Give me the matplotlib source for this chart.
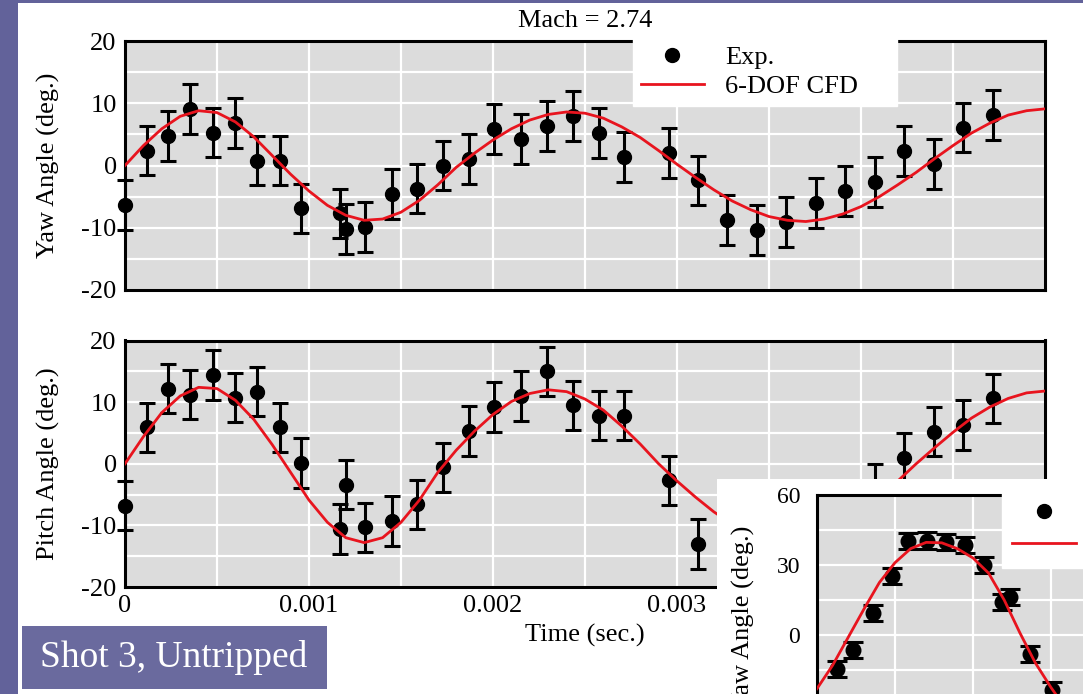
import numpy as np
import matplotlib.pyplot as plt
from matplotlib.lines import Line2D
from matplotlib.patches import Rectangle
from matplotlib.ticker import MultipleLocator

plt.rcParams['font.family'] = ['Liberation Serif', 'DejaVu Serif']
plt.rcParams['axes.unicode_minus'] = False

# experiment times (sec.), shared by yaw and pitch
exp_t = [0.0, 0.000118, 0.000234, 0.000354, 0.000478, 0.000596, 0.000717, 0.000843,
         0.000955, 0.00117, 0.00120, 0.001306, 0.00145, 0.001588, 0.00173, 0.001867,
         0.002007, 0.002154, 0.002292, 0.002434, 0.002576, 0.002713, 0.002957, 0.003116,
         0.003274, 0.003434, 0.003594, 0.003755, 0.003915, 0.004075, 0.004236, 0.004396,
         0.004557, 0.004717]
yaw_exp = [-6.4, 2.4, 4.8, 9.1, 5.3, 6.8, 0.8, 0.8, -6.9, -7.7, -10.2, -9.9, -4.6, -3.7,
           0.0, 1.1, 5.9, 4.3, 6.4, 8.0, 5.2, 1.4, 2.0, -2.4, -8.8, -10.3, -9.1, -6.0,
           -4.1, -2.7, 2.3, 0.2, 6.1, 8.1]
pitch_exp = [-6.8, 5.9, 12.2, 11.2, 14.4, 10.7, 11.7, 5.9, 0.1, -10.6, -3.4, -10.3, -9.3,
             -6.6, -0.6, 5.3, 9.2, 11.0, 15.0, 9.5, 7.8, 7.8, -2.7, -13.0, -14.0, -15.0,
             -13.5, -11.0, -8.0, -4.0, 1.0, 5.2, 6.3, 10.6]
exp_err = 4.0

# 6-DOF CFD, sampled every 0.0001 s
cfd_t = np.linspace(0, 0.005, 51)
yaw_cfd = [0.0, 3.2, 5.9, 7.9, 8.8, 8.5, 7.0, 4.6, 1.6, -1.4, -4.1, -6.4, -8.0, -8.8, -8.6,
           -7.5, -5.6, -3.1, -0.3, 2.0, 4.1, 5.9, 7.3, 8.2, 8.6, 8.4, 7.6, 6.2, 4.5, 2.4,
           0.2, -1.9, -3.9, -5.7, -7.1, -8.2, -8.8, -9.0, -8.6, -7.8, -6.6, -5.0, -3.1,
           -1.1, 1.1, 3.2, 5.2, 6.8, 8.1, 8.8, 9.1]
pitch_cfd = [0.0, 4.4, 8.3, 11.0, 12.4, 12.2, 10.3, 7.2, 3.1, -1.4, -5.9, -9.5, -12.0, -12.8,
             -12.0, -9.5, -5.9, -1.4, 2.2, 5.3, 8.0, 10.1, 11.4, 12.0, 11.7, 10.5, 8.7, 6.1,
             3.2, 0.0, -2.8, -5.4, -7.8, -9.8, -11.3, -12.2, -12.5, -12.2, -11.3, -9.8,
             -7.8, -5.4, -2.8, 0.0, 2.6, 5.1, 7.4, 9.2, 10.6, 11.5, 11.8]

# inset (next shot, partly hidden)
inset_exp_t = [0.000128, 0.000231, 0.000359, 0.000481, 0.000583, 0.000705, 0.000827,
               0.000949, 0.00107, 0.001186, 0.001237, 0.001365, 0.001506]
inset_exp = [-14.6, -6.4, 9.4, 25.3, 40.3, 40.5, 40.0, 38.6, 30.0, 14.1, 16.3, -8.1, -23.6]
inset_err = 3.5
inset_cfd_t = np.linspace(0, 0.0016, 17)
inset_cfd = [-23.0, -13.0, -1.0, 11.0, 22.5, 31.0, 37.0, 39.7, 39.5, 37.0, 33.0, 26.5,
             15.0, 1.0, -12.0, -22.5, -32.0]

time_ticks = [0, 0.001, 0.002, 0.003, 0.004, 0.005]
time_labels = ['0', '0.001', '0.002', '0.003', '0.004', '0.005']
angle_ticks = [-20, -10, 0, 10, 20]
angle_labels = ['-20', '-10', '0', '10', '20']
inset_ticks = [-30, 0, 30, 60]
inset_labels = ['-30', '0', '30', '60']

PURPLE = '#62629a'
BOX = '#6a6a9e'
GRAY = '#dcdcdc'
RED = '#e8141e'
FS = 19

W, H = 1083, 694
fig = plt.figure(figsize=(W / 100, H / 100), dpi=100)
fig.patch.set_facecolor(PURPLE)


def fx(px):
    return px / W


def fy(py):
    return 1 - py / H


fig.add_artist(Rectangle((fx(18), 0), 1 - fx(18), fy(3), transform=fig.transFigure,
                         facecolor='white', edgecolor='none', zorder=-1))


def style(ax):
    ax.set_facecolor(GRAY)
    ax.grid(which='both', color='white', lw=1.6)
    ax.set_axisbelow(True)
    ax.tick_params(which='both', length=0, labelsize=FS, pad=6)
    for s in ax.spines.values():
        s.set_linewidth(2.2)
        s.set_color('black')


def draw_series(ax, t, v, err, ct, cv, ms=10, cap=6):
    cont = ax.errorbar(t, v, yerr=err, fmt='o', color='black', ms=ms,
                       elinewidth=2.2, capsize=cap, capthick=2.2, zorder=3)
    for a in cont.get_children():
        a.set_clip_on(False)
    ax.plot(ct, cv, color=RED, lw=2, zorder=4)


legend_handles = [Line2D([], [], ls='none', marker='o', color='black', ms=10),
                  Line2D([], [], color=RED, lw=2)]
legend_labels = ['Exp.', '6-DOF CFD']

ax_top = fig.add_axes([fx(125), fy(290), 920 / W, 249 / H])
ax_bot = fig.add_axes([fx(125), fy(587), 920 / W, 246.5 / H])

for ax, vals, cfd, lab in [(ax_top, yaw_exp, yaw_cfd, 'Yaw Angle (deg.)'),
                           (ax_bot, pitch_exp, pitch_cfd, 'Pitch Angle (deg.)')]:
    style(ax)
    ax.set_xlim(0, 0.005)
    ax.set_ylim(-20, 20)
    ax.set_xticks(time_ticks, time_labels)
    ax.xaxis.set_minor_locator(MultipleLocator(0.0005))
    ax.set_yticks(angle_ticks, angle_labels)
    ax.yaxis.set_minor_locator(MultipleLocator(5))
    draw_series(ax, exp_t, vals, exp_err, cfd_t, cfd)
    ax.set_ylabel(lab, fontsize=FS)
    ax.yaxis.set_label_coords(-0.0707, 0.5)

ax_top.tick_params(labelbottom=False)
ax_top.set_title('Mach = 2.74', fontsize=FS, pad=10)
ax_bot.set_xlabel('Time (sec.)', fontsize=FS, labelpad=5)

ax_top.legend(legend_handles, legend_labels, loc='upper left',
              bbox_to_anchor=(0.552, 1.012, 0.287, 0), mode='expand', borderaxespad=0,
              fontsize=FS, frameon=True, fancybox=False, framealpha=1,
              facecolor='white', edgecolor='white', handlelength=2.4,
              handletextpad=0.8, labelspacing=0.2, borderpad=0.3)

# white panel of the overlapping inset
fig.add_artist(Rectangle((fx(717), 0), 1 - fx(717), fy(479), transform=fig.transFigure,
                         facecolor='white', edgecolor='none', zorder=5))

inset = fig.add_axes([fx(817), fy(775), 390 / W, 280 / H])
inset.set_zorder(6)
style(inset)
inset.tick_params(labelsize=17, pad=12)
inset.set_xlim(0, 0.0025)
inset.set_ylim(-60, 60)
inset.xaxis.set_major_locator(MultipleLocator(0.0005))
inset.tick_params(labelbottom=False)
inset.set_yticks(inset_ticks, inset_labels)
inset.yaxis.set_minor_locator(MultipleLocator(15))
draw_series(inset, inset_exp_t, inset_exp, inset_err, inset_cfd_t, inset_cfd, ms=10.5, cap=7)
# only the legend handles of the inset fall inside the slide; its labels are off the edge
inset.legend(legend_handles, ['', ''], loc='upper left',
             bbox_to_anchor=(0.474, 1.012, (1090 - 1002) / 390, 0), mode='expand',
             borderaxespad=0, fontsize=FS, frameon=True,
             fancybox=False, framealpha=1, facecolor='white', edgecolor='white',
             handlelength=2.4, handletextpad=0.8, labelspacing=0.3, borderpad=0.4)
fig.text(fx(743), fy(618), 'Yaw Angle (deg.)', rotation=90, ha='center', va='center',
         fontsize=FS, zorder=7)

# slide caption
fig.add_artist(Rectangle((fx(22), fy(689)), 305 / W, 63 / H, transform=fig.transFigure,
                         facecolor=BOX, edgecolor='none', zorder=5))
fig.text(fx(174), fy(667), 'Shot 3, Untripped', ha='center', va='baseline',
         color='white', fontsize=27, zorder=6)

fig.savefig('out.png', dpi=100, facecolor=fig.get_facecolor())
